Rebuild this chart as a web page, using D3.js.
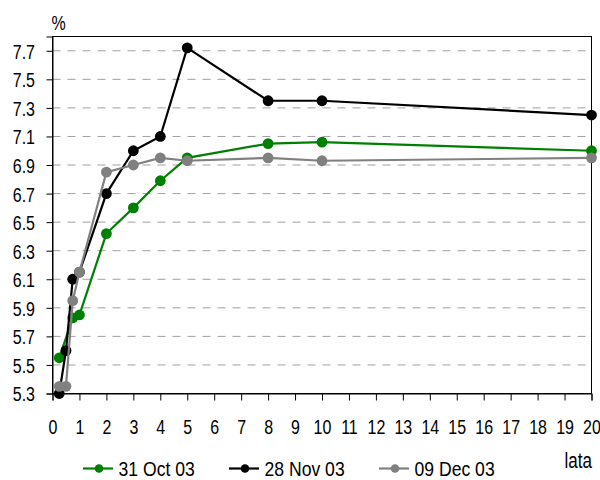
<!DOCTYPE html>
<html><head><meta charset="utf-8">
<script src="https://cdn.jsdelivr.net/npm/d3@7"></script>
<style>body{margin:0;background:#fff}svg{display:block;font-family:"Liberation Sans",Arial,sans-serif}</style>
</head><body><svg id="c" width="600" height="480"></svg>
<script>
const seriesNames = ["31 Oct 03", "28 Nov 03", "09 Dec 03"];
const seriesColors = ["#008000", "#000000", "#808080"];
const maturities = [0.25, 0.5, 0.75, 1, 2, 3, 4, 5, 8, 10, 20];
const oct31 = [5.55, null, 5.83, 5.85, 6.42, 6.6, 6.79, 6.95, 7.05, 7.06, 7.0];
const nov28 = [5.3, 5.6, 6.1, 6.15, 6.7, 7.0, 7.1, 7.72, 7.35, 7.35, 7.25];
const dec09 = [5.35, 5.35, 5.95, 6.15, 6.85, 6.9, 6.95, 6.93, 6.95, 6.93, 6.95];
const yTicks = [5.3, 5.5, 5.7, 5.9, 6.1, 6.3, 6.5, 6.7, 6.9, 7.1, 7.3, 7.5, 7.7];
const xTicks = d3.range(0, 21, 1);

const svg = d3.select("#c");
const L = 52.5, R = 591.5, T = 36.5, B = 393.5;
const x = d3.scaleLinear().domain([0, 20]).range([L, R]);
const y = d3.scaleLinear().domain([5.3, 7.8]).range([B, T]);
const SY = 1.3;

// grid
svg.append("g").selectAll("line").data(yTicks.filter(v => v > 5.3)).join("line")
  .attr("x1", L).attr("x2", R).attr("y1", d => y(d)).attr("y2", d => y(d))
  .attr("stroke", "#a0a0a0").attr("stroke-width", 1).attr("stroke-dasharray", "8,7");

// box
svg.append("rect").attr("x", L).attr("y", T).attr("width", R - L).attr("height", B - T)
  .attr("fill", "none").attr("stroke", "#000").attr("stroke-width", 1);

const yAxis = svg.append("g").attr("transform", `translate(${L},0)`)
  .call(d3.axisLeft(y).tickValues(yTicks).tickFormat(d3.format(".1f")).tickSize(6));
yAxis.select(".domain").attr("stroke", "#000");
yAxis.selectAll(".tick line").attr("stroke", "#000");
yAxis.selectAll("text").attr("font-size", 16).attr("fill", "#000")
  .attr("x", -17.5).attr("dy", "0.36em").attr("transform", `scale(1,${SY})`);

const xAxis = svg.append("g").attr("transform", `translate(0,${B})`)
  .call(d3.axisBottom(x).tickValues(xTicks).tickFormat(d3.format("d")).tickSize(7));
xAxis.select(".domain").attr("stroke", "#000");
xAxis.selectAll(".tick line").attr("stroke", "#000");
xAxis.selectAll("text").attr("font-size", 16).attr("fill", "#000")
  .attr("y", 31).attr("dy", 0).attr("transform", `scale(1,${SY})`);

svg.append("text").attr("transform", `translate(51.5,30) scale(1,${SY})`).attr("font-size", 16).text("%");
svg.append("text").attr("transform", `translate(564.5,468) scale(1,1.25)`).attr("font-size", 17).text("lata");

const allSeries = [oct31, nov28, dec09];
const line = d3.line().x(d => x(d[0])).y(d => y(d[1]));
[0, 1, 2].forEach(i => {
  const pts = maturities.map((m, j) => [m, allSeries[i][j]]).filter(d => d[1] != null);
  const g = svg.append("g");
  g.append("path").datum(pts).attr("d", line).attr("fill", "none")
    .attr("stroke", seriesColors[i]).attr("stroke-width", 2.2);
  g.selectAll("circle").data(pts).join("circle")
    .attr("cx", d => x(d[0])).attr("cy", d => y(d[1])).attr("r", 5.4)
    .attr("fill", seriesColors[i]);
});

// legend
const legX = [83, 229, 379];
seriesNames.forEach((n, i) => {
  const g = svg.append("g").attr("transform", `translate(${legX[i]},468.5)`);
  g.append("line").attr("x1", 0).attr("x2", 30).attr("y1", 0).attr("y2", 0)
    .attr("stroke", seriesColors[i]).attr("stroke-width", 2.2);
  g.append("circle").attr("cx", 16).attr("cy", 0).attr("r", 4.3).attr("fill", seriesColors[i]);
  g.append("text").attr("transform", `translate(35.5,7.2) scale(1,1.18)`).attr("font-size", 17.6).text(n);
});
</script></body></html>
